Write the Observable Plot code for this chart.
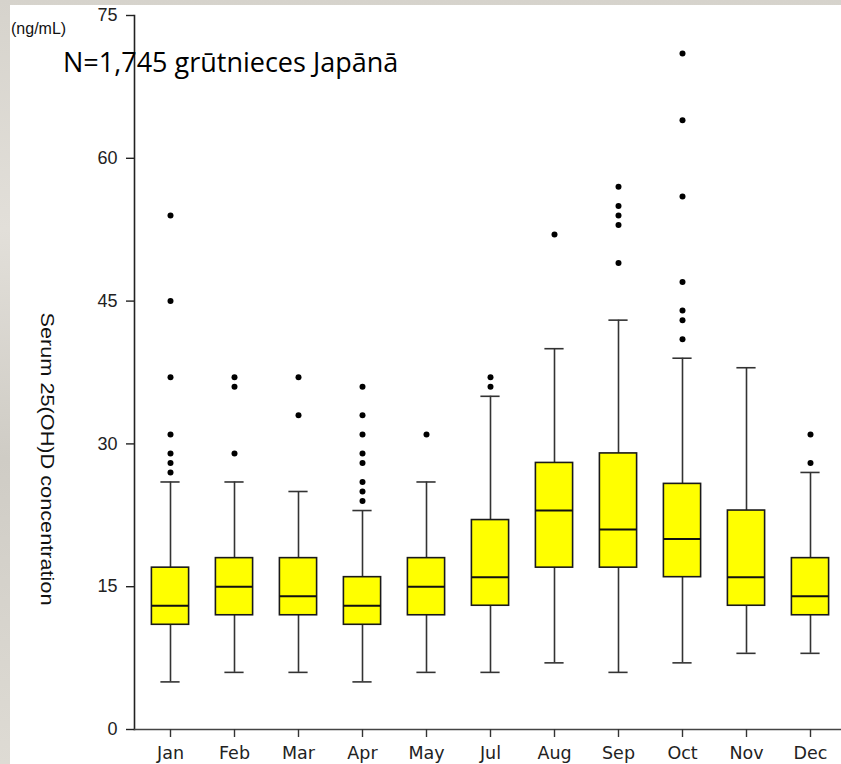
<!DOCTYPE html>
<html>
<head>
<meta charset="utf-8">
<script src="https://cdn.jsdelivr.net/npm/d3@7"></script>
<script src="https://cdn.jsdelivr.net/npm/@observablehq/plot@0.6"></script>
<style>
  html, body { margin: 0; padding: 0; }
  body {
    width: 841px; height: 764px; overflow: hidden; position: relative;
    background: linear-gradient(180deg, #d6d3cc 0%, #e2dfd9 30%, #cfccc5 60%, #dedbd4 100%);
  }
  #panel { position: absolute; left: 10px; top: 5px; width: 831px; height: 759px; background: #fff; }
  #chart { position: absolute; left: 0; top: 0; }
  #unit { position: absolute; left: 11px; top: 21px; font: 16px/1 "Liberation Sans", Arial, sans-serif; color: #111; }
  #title { position: absolute; left: 63px; top: 48px; font: 27px/1 "Open Sans", sans-serif; color: #000; white-space: nowrap; }
</style>
</head>
<body>
<div id="panel"></div>
<div id="chart"></div>
<div id="unit">(ng/mL)</div>
<div id="title">N=1,745 grūtnieces Japānā</div>
<script>
const months = ["Jan","Feb","Mar","Apr","May","Jul","Aug","Sep","Oct","Nov","Dec"];
const whiskerLow  = [5, 6, 6, 5, 6, 6, 7, 6, 7, 8, 8];
const q1          = [11, 12, 12, 11, 12, 13, 17, 17, 16, 13, 12];
const median      = [13, 15, 14, 13, 15, 16, 23, 21, 20, 16, 14];
const q3          = [17, 18, 18, 16, 18, 22, 28, 29, 25.8, 23, 18];
const whiskerHigh = [26, 26, 25, 23, 26, 35, 40, 43, 39, 38, 27];
const outliersJan = [27, 28, 29, 31, 37, 45, 54];
const outliersFeb = [29, 36, 37];
const outliersMar = [33, 37];
const outliersApr = [24, 25, 26, 28, 29, 31, 33, 36];
const outliersMay = [31];
const outliersJul = [36, 37];
const outliersAug = [52];
const outliersSep = [49, 53, 54, 55, 57];
const outliersOct = [41, 43, 44, 47, 56, 64, 71];
const outliersNov = [];
const outliersDec = [28, 31];
const yTicks = [0, 15, 30, 45, 60, 75];
const yLabel = "Serum 25(OH)D concentration";

const outlierLists = [outliersJan, outliersFeb, outliersMar, outliersApr, outliersMay, outliersJul,
                      outliersAug, outliersSep, outliersOct, outliersNov, outliersDec];

const boxes = months.map((m, i) => ({
  month: m, lo: whiskerLow[i], q1: q1[i], med: median[i], q3: q3[i], hi: whiskerHigh[i]
}));
const outliers = months.flatMap((m, i) => outlierLists[i].map(v => ({month: m, value: v})));

const boxInset = 13.4;
const capInset = 22.4;

const plot = Plot.plot({
  width: 841,
  height: 764,
  marginLeft: 134,
  marginRight: 0,
  marginTop: 15,
  marginBottom: 35,
  style: {background: "transparent", overflow: "hidden"},
  x: {type: "band", domain: months, range: [134, 846], padding: 0, label: null},
  y: {domain: [0, 75], label: null},
  marks: [
    Plot.ruleX(boxes, {x: "month", y1: "lo", y2: "hi", stroke: "#333", strokeWidth: 1.6}),
    Plot.tickY(boxes, {x: "month", y: "lo", stroke: "#333", strokeWidth: 1.6, insetLeft: capInset, insetRight: capInset}),
    Plot.tickY(boxes, {x: "month", y: "hi", stroke: "#333", strokeWidth: 1.6, insetLeft: capInset, insetRight: capInset}),
    Plot.barY(boxes, {x: "month", y1: "q1", y2: "q3", fill: "#ffff00", stroke: "#1a1a1a", strokeWidth: 1.6, insetLeft: boxInset, insetRight: boxInset}),
    Plot.tickY(boxes, {x: "month", y: "med", stroke: "#111", strokeWidth: 2, insetLeft: boxInset, insetRight: boxInset}),
    Plot.dot(outliers, {x: "month", y: "value", r: 3, fill: "#000", stroke: "none"}),
    Plot.frame({anchor: "left", stroke: "#222", strokeWidth: 1.6}),
    Plot.frame({anchor: "bottom", stroke: "#444", strokeWidth: 1.6}),
    Plot.axisY({ticks: yTicks, tickSize: 8, tickPadding: 9, fontSize: 18, fontFamily: "Liberation Sans, Arial, sans-serif", fill: "#222", stroke: "#222", strokeWidth: 1.4, label: null}),
    Plot.axisX({tickSize: 8, tickPadding: 9, fontSize: 17.5, fontFamily: "DejaVu Sans, Verdana, sans-serif", fill: "#222", stroke: "#333", strokeWidth: 1.4, label: null}),
    Plot.text([yLabel], {text: d => d, frameAnchor: "left", dx: -88, dy: -60, rotate: 90, fontSize: 18, fontFamily: "Liberation Sans, Arial, sans-serif", fill: "#111"})
  ]
});

d3.select(plot).selectAll("text")
  .filter(function() { return this.textContent === yLabel; })
  .attr("textLength", 293)
  .attr("lengthAdjust", "spacingAndGlyphs");

document.getElementById("chart").appendChild(plot);
</script>
</body>
</html>
